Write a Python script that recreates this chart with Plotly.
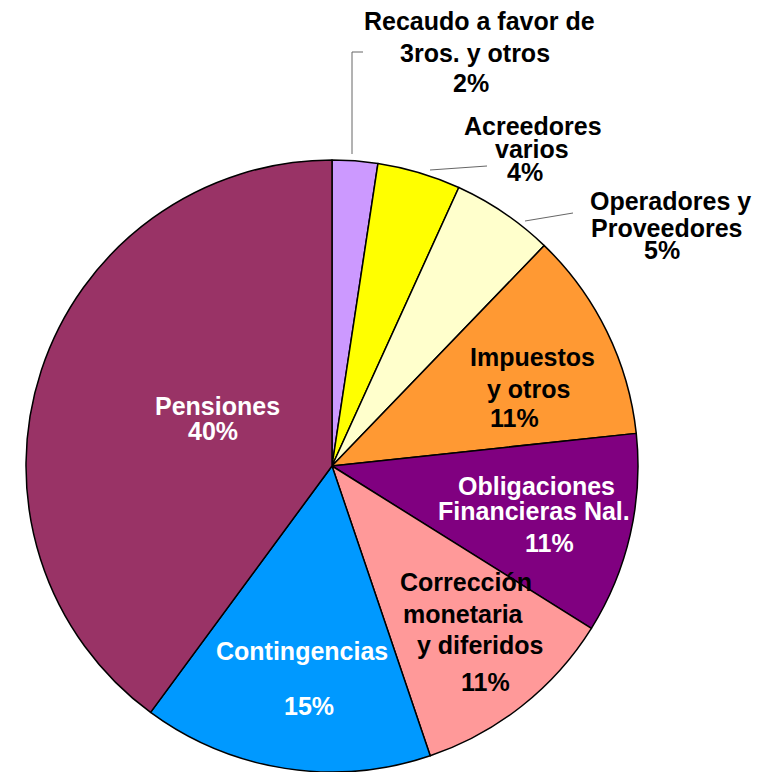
import plotly.graph_objects as go

OFF = 8  # page body margin
W, H = 763 - OFF, 772 - OFF

categories = [
    "Recaudo a favor de 3ros. y otros",
    "Acreedores varios",
    "Operadores y Proveedores",
    "Impuestos y otros",
    "Obligaciones Financieras Nal.",
    "Corrección monetaria y diferidos",
    "Contingencias",
    "Pensiones",
]
values = [2.4, 4.4, 5.4, 11.1, 10.6, 10.9, 15.3, 39.9]
colors = ["#CC99FF", "#FFFF00", "#FFFFCC", "#FF9933", "#800080", "#FF9999", "#0099FF", "#993366"]

# label lines per category (last line is the percentage, filled below)
label_lines = [
    ["Recaudo a favor de", "3ros. y otros"],
    ["Acreedores", "varios"],
    ["Operadores y", "Proveedores"],
    ["Impuestos", "y otros"],
    ["Obligaciones", "Financieras Nal."],
    ["Corrección", "monetaria", "y diferidos"],
    ["Contingencias", ""],
    ["Pensiones"],
]
# reference-pixel positions (center x, middle y) of each label line, incl. percentage line
line_pos = [
    [(479, 21), (475, 53), (471, 83)],
    [(533, 126), (532, 149), (525, 172)],
    [(670, 201), (666, 228), (662, 250)],
    [(532, 357), (528, 389), (514, 418)],
    [(536, 486), (534, 511), (549, 543)],
    [(466, 582), (463, 614), (480, 645), (485, 682)],
    [(302, 651), None, (309, 706)],
    [(217, 406), (213, 431)],
]
text_colors = ["black", "black", "black", "black", "white", "black", "white", "white"]

total = sum(values)
pct_text = [f"{round(v / total * 100)}%" for v in values]


def px(x):
    return (x - OFF) / W


def py(y):
    return 1 - (y - OFF) / H


cx, cy, r = 332, 466, 306

fig = go.Figure(go.Pie(
    labels=categories,
    values=values,
    sort=False,
    direction="clockwise",
    rotation=0,
    marker=dict(colors=colors, line=dict(color="black", width=1.5)),
    textinfo="none",
    hoverinfo="label+percent",
    showlegend=False,
    domain=dict(x=[px(cx - r), px(cx + r)], y=[max(0, py(cy + r)), min(1, py(cy - r))]),
))

annotations = []
for i, lines in enumerate(label_lines):
    all_lines = lines + [pct_text[i]]
    for txt, pos in zip(all_lines, line_pos[i]):
        if pos is None or txt == "":
            continue
        annotations.append(dict(
            text=txt, x=px(pos[0]), y=py(pos[1]), xref="paper", yref="paper",
            xanchor="center", yanchor="middle", showarrow=False,
            font=dict(family="Liberation Sans, Arial, sans-serif", size=25,
                      weight="bold", color=text_colors[i]),
        ))

# leader lines for outside labels
leaders = [
    [(363, 52), (352, 52), (352, 154)],
    [(487, 166), (430, 170)],
    [(573, 213), (525, 221)],
]
shapes = []
for pts in leaders:
    for (x0, y0), (x1, y1) in zip(pts[:-1], pts[1:]):
        shapes.append(dict(type="line", xref="paper", yref="paper",
                           x0=px(x0), y0=py(y0), x1=px(x1), y1=py(y1),
                           line=dict(color="#666666", width=1)))

fig.update_layout(
    width=W, height=H,
    margin=dict(l=0, r=0, t=0, b=0),
    paper_bgcolor="white",
    plot_bgcolor="white",
    annotations=annotations,
    shapes=shapes,
)

fig.write_html("out.html")
